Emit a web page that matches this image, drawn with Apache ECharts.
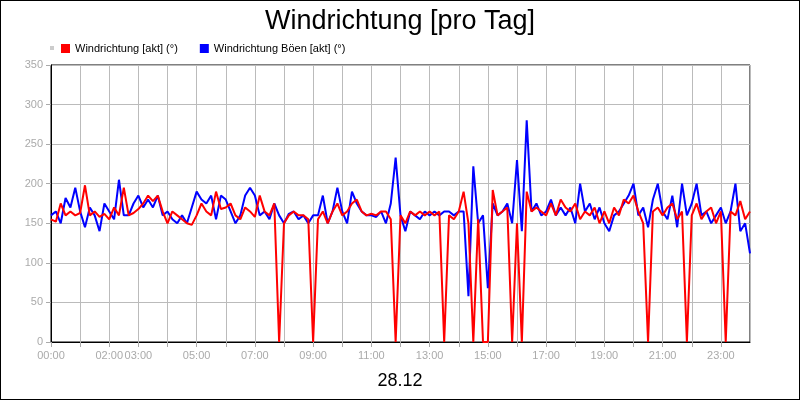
<!DOCTYPE html><html><head><meta charset="utf-8"><script src="https://cdn.jsdelivr.net/npm/echarts@6/dist/echarts.min.js"></script>
<style>html,body{margin:0;padding:0}#c{width:798px;height:398px;border:1px solid #000}</style></head><body><div id="c"></div><script>
const tickLabels={0:'00:00',120:'02:00',180:'03:00',300:'05:00',420:'07:00',540:'09:00',660:'11:00',780:'13:00',900:'15:00',1020:'17:00',1140:'19:00',1260:'21:00',1380:'23:00'};
const red=[155,152,175,160,165,160, 163,198,160,165,158,162, 155,170,160,195,160,163, 168,175,185,178,185,165, 150,165,160,155,150,148, 160,175,165,160,190,168, 170,175,160,155,170,165, 158,185,165,160,175,0, 150,160,165,160,160,155, 0,155,165,150,165,175, 160,165,175,180,165,160, 162,160,165,165,155,0, 160,150,165,160,165,160, 165,160,165,0,160,155, 165,190,150,0,155,0, 0,192,160,165,170,0, 150,0,190,165,170,165, 160,175,160,180,170,165, 175,155,165,160,170,150, 165,150,170,160,180,175, 185,165,150,0,165,170, 160,170,175,155,165,0, 160,175,155,165,170,150, 165,0,165,160,178,155, 165];
const blue=[160,165,150,182,170,195, 165,145,170,160,140,175, 165,155,205,160,160,175, 185,170,180,170,185,160, 165,155,150,160,150,170, 190,180,175,185,155,185, 180,165,150,160,185,195, 185,160,165,155,175,160, 150,162,165,155,160,150, 160,160,185,150,165,195, 165,150,190,175,165,160, 160,158,165,150,175,233, 160,140,165,160,155,165, 160,165,160,165,165,160, 165,165,58,222,150,160, 68,175,160,165,175,150, 230,140,280,165,175,160, 165,180,160,170,160,170, 150,200,165,175,155,170, 150,140,160,165,175,185, 200,160,170,145,180,200, 165,155,185,145,200,160, 175,200,160,165,150,160, 170,150,165,200,140,150, 112];
const toXY=a=>a.map((v,i)=>[i*10,v]);
const ch=echarts.init(document.getElementById('c'));
ch.setOption({animation:false,
title:[{text:'Windrichtung [pro Tag]',left:'center',top:2,textStyle:{fontFamily:'Liberation Sans',fontSize:27,fontWeight:'normal',color:'#000'}},
{text:'28.12',left:'center',top:366,textStyle:{fontFamily:'Liberation Sans',fontSize:18,fontWeight:'normal',color:'#000'}}],
legend:[{left:44,top:40,itemWidth:4,itemHeight:4,icon:'rect',data:['_'],formatter:()=>'',textStyle:{fontSize:1}},
{left:55,top:37,itemWidth:9,itemHeight:9,itemGap:22,itemTextGap:2,icon:'rect',textStyle:{fontFamily:'Liberation Sans',fontSize:11,color:'#000'},data:['Windrichtung [akt] (°)','Windrichtung Böen [akt] (°)']}],
grid:{left:50,right:49,top:64,bottom:57,show:true,borderColor:'#000',borderWidth:1},
xAxis:{type:'value',min:0,max:1440,interval:60,axisLine:{lineStyle:{color:'#000'}},axisTick:{lineStyle:{color:'#aaa'}},splitLine:{lineStyle:{color:'#bbb'}},
axisLabel:{color:'#aaa',fontSize:11,fontFamily:'Liberation Sans',showMaxLabel:false,formatter:v=>tickLabels[v]||''}},
yAxis:{type:'value',min:0,max:350,interval:50,axisLine:{show:true,lineStyle:{color:'#000'}},axisTick:{show:true,lineStyle:{color:'#aaa'}},splitLine:{lineStyle:{color:'#bbb'}},axisLabel:{color:'#aaa',fontSize:11,fontFamily:'Liberation Sans'}},
series:[{name:'_',type:'line',data:[],itemStyle:{color:'#ccc'}},
{name:'Windrichtung [akt] (°)',type:'line',data:toXY(red),showSymbol:false,z:3,lineStyle:{color:'#ff0000',width:2},itemStyle:{color:'#ff0000'}},
{name:'Windrichtung Böen [akt] (°)',type:'line',data:toXY(blue),showSymbol:false,z:2,lineStyle:{color:'#0000ff',width:2},itemStyle:{color:'#0000ff'}}]});
</script></body></html>
